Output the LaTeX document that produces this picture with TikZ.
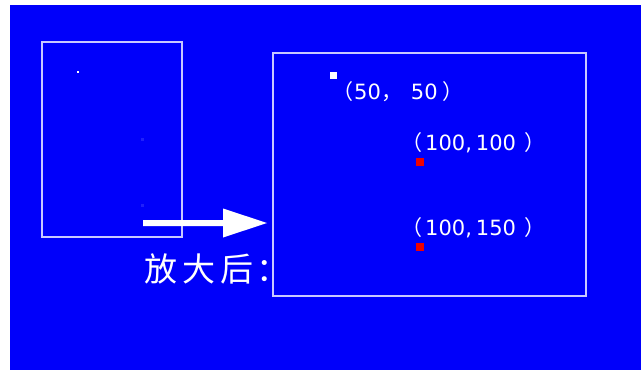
\documentclass[tikz,border=0pt]{standalone}
\usepackage{fontspec}
\newfontfamily\cjk{Noto Sans CJK SC}
\newfontfamily\dv{DejaVu Sans}
\definecolor{bg}{RGB}{0,0,250}
\definecolor{frame}{RGB}{200,200,255}
\definecolor{pt}{RGB}{240,0,0}
\begin{document}
\begin{tikzpicture}[x=1pt,y=-1pt,
  boxframe/.style={draw=frame,line width=1.3pt},
  lbl/.style={text=white,inner sep=0pt,font=\cjk\fontsize{21}{23}\selectfont,anchor=west},
  dot/.style={inner sep=0pt,minimum size=8pt,draw=none}]
\useasboundingbox (0,0) rectangle (641,370);
\fill[white] (0,0) rectangle (641,370);
\fill[bg] (10,5) rectangle (641,370);
% left (original) box
\node[boxframe,minimum width=140pt,minimum height=195pt,inner sep=0pt] (small) at (112,139.5) {};
\node[inner sep=0pt,minimum size=1.6pt,fill=white] (s1) at (78,72) {};
\node[inner sep=0pt,minimum size=3pt,fill=bg!88!white] (s2) at (142,139) {};
\node[inner sep=0pt,minimum size=3pt,fill=bg!88!white] (s3) at (142,205) {};
% right (enlarged) box
\node[boxframe,minimum width=313pt,minimum height=243pt,inner sep=0pt] (big) at (429.5,174.5) {};
% arrow
\coordinate (a0) at (143,223);
\coordinate (a1) at (267,223);
\fill[white] (a0) ++(0,-3) -- (223,220) -- (223,208.5) -- (a1) -- (223,237.5) -- (223,226) -- (143,226) -- cycle;
% label
\node[text=white,inner sep=0pt,anchor=west,font=\cjk\fontsize{33}{36}\selectfont] (zoom) at (144,269) {放\kern5pt 大\kern5pt 后\kern3pt ：};
% points
\node[dot,fill=white,minimum size=7pt] (p1) at (333.5,75.5) {};
\node[lbl] (t1) at (332,92) {（\kern1pt{\dv 50}\kern1pt ，\kern8pt{\dv 50}\kern5pt ）};
\node[dot,fill=pt] (p2) at (419.5,161.5) {};
\node[lbl] (t2) at (401,143) {（\kern3pt{\dv 100,\kern4pt 100}\kern8pt ）};
\node[dot,fill=pt] (p3) at (419.5,246.5) {};
\node[lbl] (t3) at (401,228) {（\kern3pt{\dv 100,\kern4pt 150}\kern8pt ）};
\end{tikzpicture}
\end{document}
